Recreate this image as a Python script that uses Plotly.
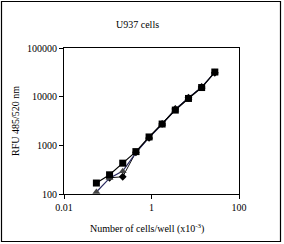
import plotly.graph_objects as go

cells = [0.055, 0.11, 0.22, 0.44, 0.88, 1.75, 3.5, 7, 14, 28]
rfu_square = [168, 248, 430, 743, 1486, 2740, 5300, 9190, 15400, 32100]
rfu_triangle = [110, 212, 295, 700, 1450, 2700, 5400, 9400, 15600, 31500]
cells_diamond = [0.11, 0.22, 0.44, 0.88, 1.75, 3.5, 7, 14, 28]
rfu_diamond = [215, 226, 720, 1420, 2750, 5600, 9500, 15800, 31000]

L, R, T, B = 64, 45, 48, 50
W, H = 284, 244
pw, ph = W - L - R, H - T - B

def px(x):
    return (x - L) / pw

def py(y):
    return (H - B - y) / ph

fig = go.Figure()
fig.add_trace(go.Scatter(x=cells_diamond, y=rfu_diamond, mode="lines+markers",
                         line=dict(color="#111111", width=1),
                         marker=dict(symbol="diamond", size=6, color="#000000")))
fig.add_trace(go.Scatter(x=cells, y=rfu_triangle, mode="lines+markers",
                         line=dict(color="#2a2a60", width=1.2),
                         marker=dict(symbol="triangle-up", size=7, color="#444444")))
fig.add_trace(go.Scatter(x=cells, y=rfu_square, mode="lines+markers",
                         line=dict(color="#000000", width=1.2),
                         marker=dict(symbol="square", size=7, color="#000000")))

serif = "Liberation Serif, Times New Roman, serif"
fig.update_layout(
    width=W, height=H, margin=dict(l=L, r=R, t=T, b=B),
    paper_bgcolor="white", plot_bgcolor="white", showlegend=False,
    font=dict(family=serif, size=10, color="#000000"),
    xaxis=dict(type="log", range=[-2, 2], tickvals=[0.01, 1, 100], ticktext=["0.01", "1", "100"],
               ticks="outside", ticklen=4, tickwidth=1, tickcolor="black",
               showline=True, linecolor="black", linewidth=1, mirror=True,
               showgrid=False, zeroline=False, tickfont=dict(size=10)),
    yaxis=dict(type="log", range=[2, 5], tickvals=[100, 1000, 10000, 100000],
               ticktext=["100", "1000", "10000", "100000"],
               ticks="outside", ticklen=4, tickwidth=1, tickcolor="black",
               showline=True, linecolor="black", linewidth=1, mirror=True,
               showgrid=False, zeroline=False, tickfont=dict(size=10)),
    annotations=[
        dict(text="U937 cells", x=px(137), y=py(24), xref="paper", yref="paper",
             showarrow=False, xanchor="center", yanchor="middle", font=dict(size=10)),
        dict(text="Number of cells/well (x10<sup>-3</sup>)", x=px(147), y=py(228),
             xref="paper", yref="paper", showarrow=False, xanchor="center", yanchor="middle",
             font=dict(size=10)),
        dict(text="RFU 485/520 nm", x=px(15), y=py(121), xref="paper", yref="paper",
             showarrow=False, textangle=-90, xanchor="center", yanchor="middle",
             font=dict(size=10)),
    ],
    shapes=[dict(type="rect", xref="paper", yref="paper",
                 x0=px(1.5), x1=px(280.5), y0=py(241.5), y1=py(1.5),
                 line=dict(color="black", width=1.2), layer="below")],
)

fig.write_html("out.html")
